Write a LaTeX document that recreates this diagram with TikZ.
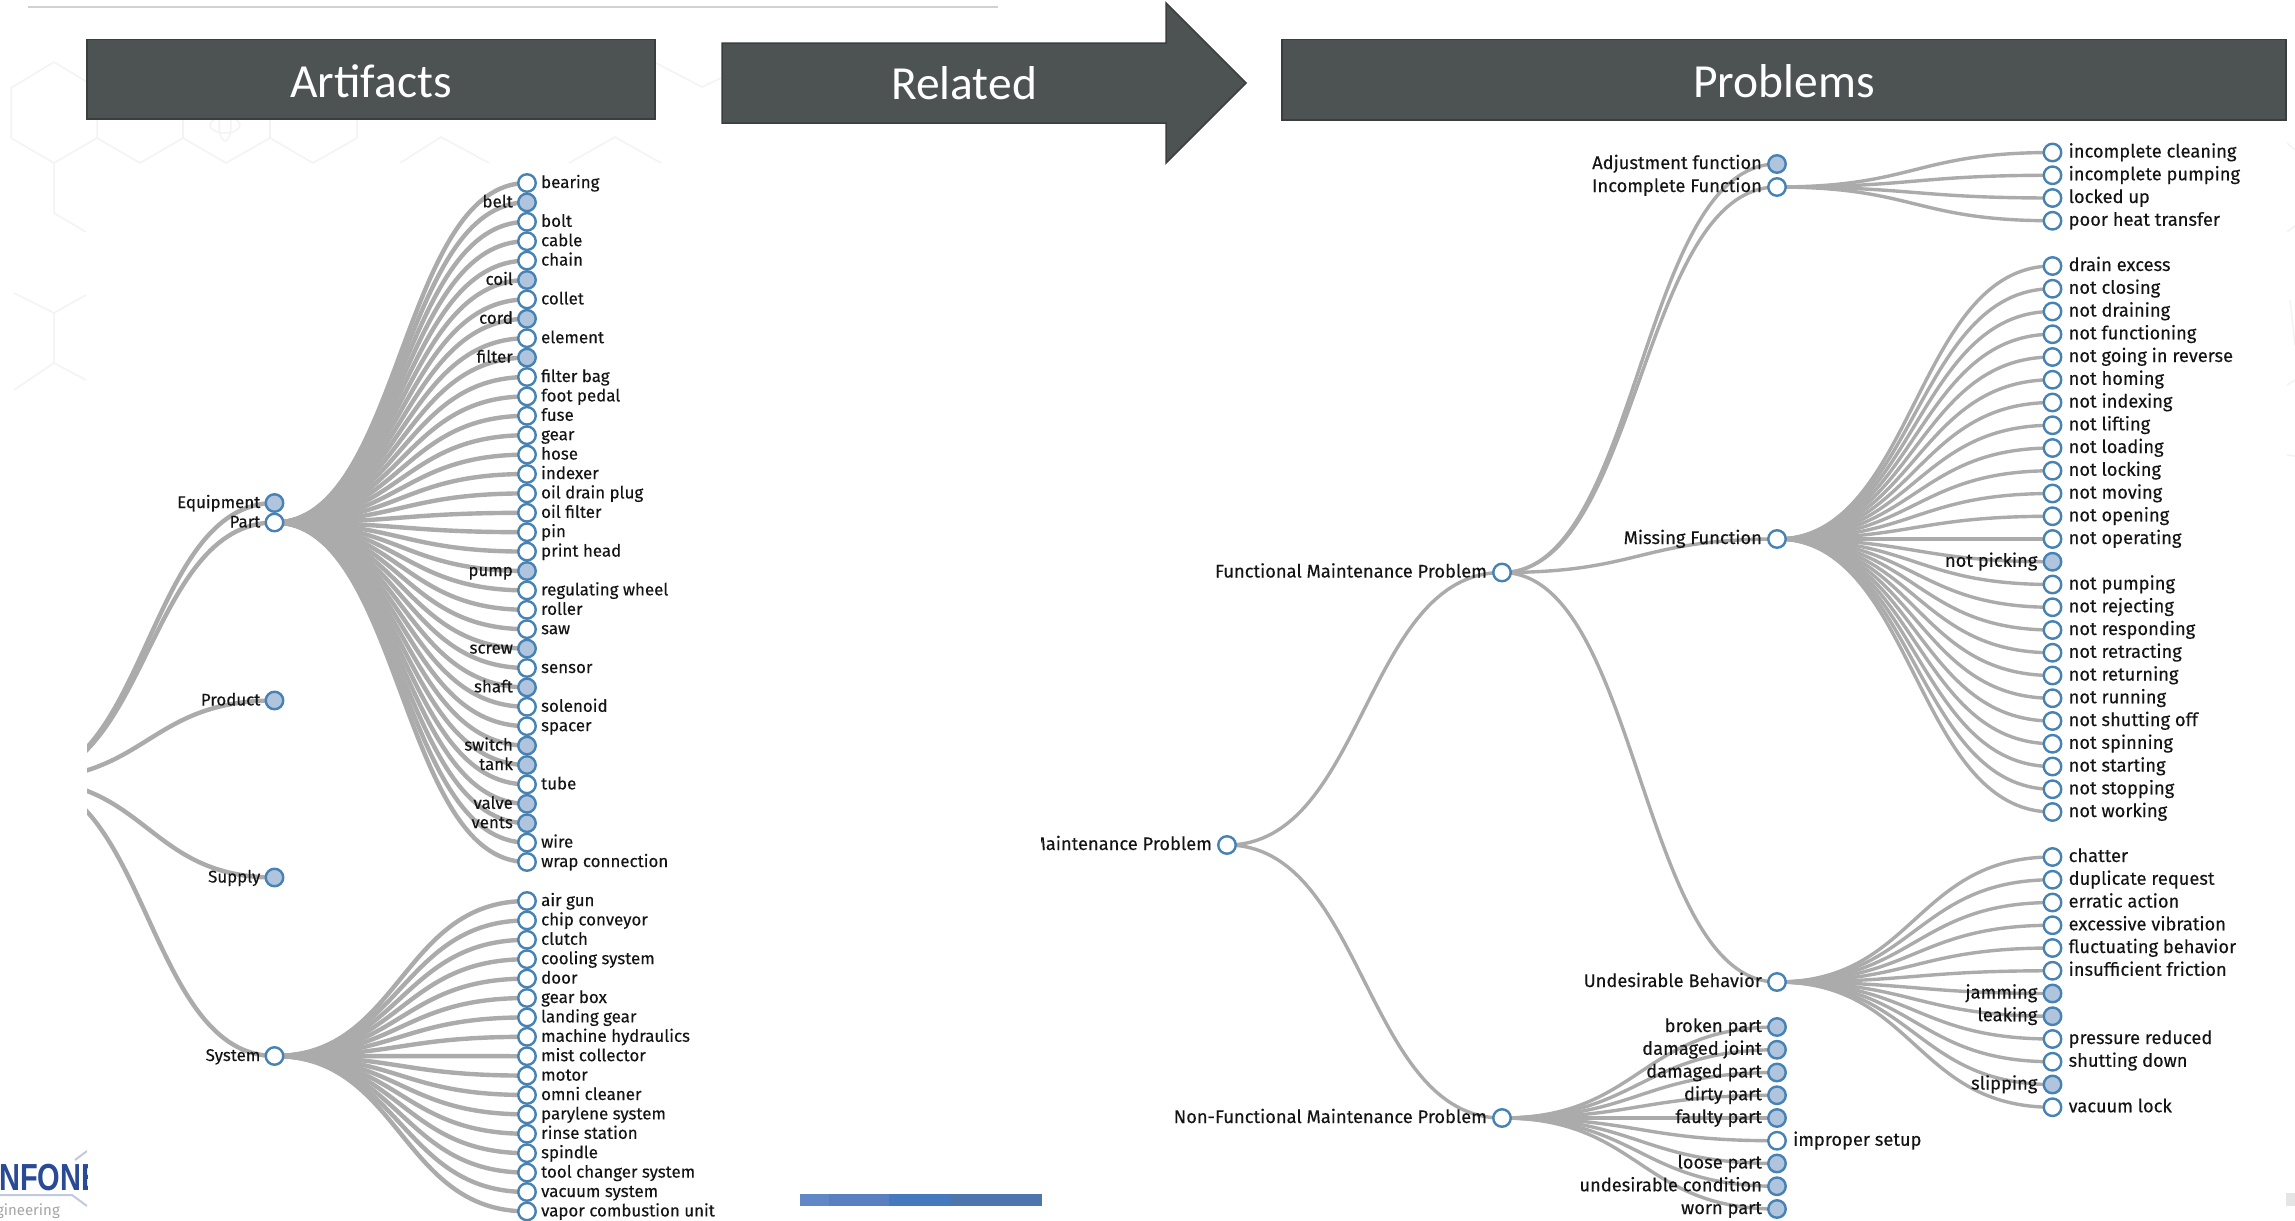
\documentclass[tikz,border=0pt]{standalone}
\usepackage{fontspec}
\usetikzlibrary{calc}
\setmainfont{Fira Sans}
\newfontfamily\lblfont{Fira Sans}[FakeBold=0.2]
\newfontfamily\headfont{Carlito}
\newfontfamily\logofont{Liberation Sans}
\definecolor{headfill}{HTML}{4D5252}
\definecolor{headedge}{HTML}{3A3E3E}
\definecolor{nodeedge}{HTML}{4682B4}
\definecolor{nodefill}{HTML}{B0C4DE}
\definecolor{linkgray}{HTML}{ABABAB}
\definecolor{hexgray}{HTML}{F3F3F3}
\definecolor{logoblue}{HTML}{2A4A96}
\pgfdeclarelayer{paper}
\pgfdeclarelayer{links}
\pgfsetlayers{paper,links,main}
\tikzset{
  x=1pt,y=-1pt,
  hexline/.style={draw=hexgray,line width=1.5pt,line join=round},
  headbox/.style={fill=headfill,draw=headedge,line width=1.5pt},
  headtext/.style={text=white,inner sep=0pt,font=\headfont\fontsize{47.5}{47.5}\selectfont},
  disc/.style={circle,inner sep=0pt,minimum size=17.5pt,draw=nodeedge,line width=2.4pt},
  discopen/.style={disc,fill=white},
  discfull/.style={disc,fill=nodefill},
  leftlab/.style={inner sep=0pt,text=black!92,text height=1.2em,text depth=.2em,font=\lblfont\fontsize{16.9}{17}\selectfont},
  rightlab/.style={inner sep=0pt,text=black!92,text height=1.2em,text depth=.2em,font=\lblfont\fontsize{18.3}{18}\selectfont},
  openA/.style={discopen,label={[leftlab,label distance=4pt]right:#1}},
  fullA/.style={discfull,label={[leftlab,label distance=4pt]left:#1}},
  openB/.style={discopen,label={[rightlab,label distance=6pt]right:#1}},
  fullB/.style={discfull,label={[rightlab,label distance=5pt]left:#1}},
  innerA/.style={discopen,label={[leftlab,label distance=4pt]left:#1}},
  innerB/.style={discopen,label={[rightlab,label distance=5pt]left:#1}},
  linkwide/.style={draw=linkgray,line width=4.4pt},
  linknarrow/.style={draw=linkgray,line width=3.4pt},
}
\newcommand{\treelink}[3]{\draw[#1] let \p1=(#2.center),\p2=(#3.center),\n1={(\x1+\x2)/2} in (\p1) .. controls (\n1,\y1) and (\n1,\y2) .. (\p2);}
\begin{document}
\begin{tikzpicture}
\useasboundingbox (0,0) rectangle (2295,1221);
\begin{pgfonlayer}{paper}
\fill[white] (0,0) rectangle (2295,1221);
\end{pgfonlayer}
% faint background pattern
\begin{scope}
\clip (0,0) rectangle (87,1221) (87,0) rectangle (721,164);
\draw[hexline] (54,62)--(97,88)--(97,138)--(54,163)--(11,138)--(11,88)--cycle;
\draw[hexline] (97,138)--(140,163)--(183,138)--(226,163)--(270,138)--(313,163)--(357,138)--(357,115);
\draw[hexline] (183,138)--(183,115) (270,138)--(270,115);
\draw[hexline] (54,163)--(54,213)--(86,232);
\draw[hexline] (400,163)--(441,137)--(489,163) (569,163)--(615,137)--(661,163);
\draw[hexline] (656,63)--(702,87)--(721,78);
\draw[hexline] (14,293)--(54,313)--(86,295) (54,313)--(54,363)--(14,390) (54,363)--(86,380);
\draw[hexline] (225,125) ellipse (15 and 8) (225,125) ellipse (6 and 16);
\end{scope}
\draw[hexline] (2287,143)--(2295,150) (2287,232)--(2295,226) (2290,300)--(2295,345) (2287,385)--(2295,380) (2287,455)--(2295,456);
\draw[draw=black!18,line width=2pt] (28,7)--(998,7);
% headers
\fill[headbox] (87,39.5) rectangle (655,119);
\node[headtext] (artifacts) at (371,81) {Artifacts};
\filldraw[headbox] (722,43)--(1166,43)--(1166,3)--(1246,83)--(1166,163)--(1166,123)--(722,123)--cycle;
\node[headtext] (related) at (964,83) {Related};
\fill[headbox] (1282,39.5) rectangle (2286,120);
\node[headtext] (problems) at (1784,81) {Problems};
% logo fragment
\begin{scope}
\clip (0,1140) rectangle (87,1221);
\node[inner sep=0pt,anchor=base west,yscale=1.3,text=logoblue,font=\logofont\bfseries\fontsize{29}{29}\selectfont] (logo) at (-1,1190) {NFONE};
\draw[draw=logoblue!30,line width=2pt] (0,1195)--(72,1195)--(87,1206) (75,1160)--(87,1151);
\node[inner sep=0pt,anchor=base east,text=black!35,font=\fontsize{15}{15}\selectfont] (logosub) at (60,1215) {Engineering};
\end{scope}
% bottom bars
\fill[fill={rgb,255:red,96;green,135;blue,198}] (800,1194) rectangle (829,1206);
\fill[fill={rgb,255:red,90;green,127;blue,192}] (829,1194) rectangle (889,1206);
\fill[fill={rgb,255:red,68;green,121;blue,189}] (889,1194) rectangle (949,1206);
\fill[fill={rgb,255:red,78;green,118;blue,174}] (949,1194) rectangle (1042,1206);
\fill[black!10] (2286,1193) rectangle (2295,1206);
% left tree
\coordinate (aroot) at (21,779.5);
\node[fullA=Equipment] (a1) at (274.5,503) {};
\node[innerA=Part] (a2) at (274.5,522.5) {};
\node[fullA=Product] (a3) at (274.5,700.5) {};
\node[fullA=Supply] (a4) at (274.5,877.5) {};
\node[innerA=System] (a5) at (274.5,1056) {};
\foreach \t/\k [count=\i from 0] in {bearing/openA,belt/fullA,bolt/openA,cable/openA,chain/openA,coil/fullA,collet/openA,cord/fullA,element/openA,filter/fullA,filter bag/openA,foot pedal/openA,fuse/openA,gear/openA,hose/openA,indexer/openA,oil drain plug/openA,oil filter/openA,pin/openA,print head/openA,pump/fullA,regulating wheel/openA,roller/openA,saw/openA,screw/fullA,sensor/openA,shaft/fullA,solenoid/openA,spacer/openA,switch/fullA,tank/fullA,tube/openA,valve/fullA,vents/fullA,wire/openA,wrap connection/openA}{
  \pgfmathsetmacro\yy{183+19.4*\i}
  \node[\k=\t] (p\i) at (527,\yy) {};
}
\foreach \t [count=\i from 0] in {air gun,chip conveyor,clutch,cooling system,door,gear box,landing gear,machine hydraulics,mist collector,motor,omni cleaner,parylene system,rinse station,spindle,tool changer system,vacuum system,vapor combustion unit}{
  \pgfmathsetmacro\yy{901+19.4*\i}
  \node[openA=\t] (s\i) at (527,\yy) {};
}
% right tree
\begin{scope}
\clip (1041,800) rectangle (1300,890);
\node[innerB=Maintenance Problem] (b0) at (1227,845) {};
\end{scope}
\node[innerB=Functional Maintenance Problem] (f0) at (1502,572.5) {};
\node[innerB=Non-Functional Maintenance Problem] (n0) at (1502,1118) {};
\node[fullB=Adjustment function] (f1) at (1777,164) {};
\node[innerB=Incomplete Function] (f2) at (1777,187) {};
\node[innerB=Missing Function] (f3) at (1777,539) {};
\node[innerB=Undesirable Behavior] (f4) at (1777,982) {};
\foreach \t [count=\i from 0] in {incomplete cleaning,incomplete pumping,locked up,poor heat transfer}{
  \pgfmathsetmacro\yy{152.5+22.75*\i}
  \node[openB=\t] (ic\i) at (2052.5,\yy) {};
}
\foreach \t/\k [count=\i from 0] in {drain excess/openB,not closing/openB,not draining/openB,not functioning/openB,not going in reverse/openB,not homing/openB,not indexing/openB,not lifting/openB,not loading/openB,not locking/openB,not moving/openB,not opening/openB,not operating/openB,not picking/fullB,not pumping/openB,not rejecting/openB,not responding/openB,not retracting/openB,not returning/openB,not running/openB,not shutting off/openB,not spinning/openB,not starting/openB,not stopping/openB,not working/openB}{
  \pgfmathsetmacro\yy{266+22.75*\i}
  \node[\k=\t] (m\i) at (2052.5,\yy) {};
}
\foreach \t/\k [count=\i from 0] in {chatter/openB,duplicate request/openB,erratic action/openB,excessive vibration/openB,fluctuating behavior/openB,insufficient friction/openB,jamming/fullB,leaking/fullB,pressure reduced/openB,shutting down/openB,slipping/fullB,vacuum lock/openB}{
  \pgfmathsetmacro\yy{857+22.75*\i}
  \node[\k=\t] (u\i) at (2052.5,\yy) {};
}
\foreach \t/\k [count=\i from 0] in {broken part/fullB,damaged joint/fullB,damaged part/fullB,dirty part/fullB,faulty part/fullB,improper setup/openB,loose part/fullB,undesirable condition/fullB,worn part/fullB}{
  \pgfmathsetmacro\yy{1027+22.75*\i}
  \node[\k=\t] (x\i) at (1777,\yy) {};
}
% links
\begin{pgfonlayer}{links}
\begin{scope}
\clip (87,0) rectangle (400,1221);
\foreach \c in {a1,a2,a3,a4,a5}{\treelink{linkwide}{aroot}{\c}}
\end{scope}
\foreach \i in {0,...,35}{\treelink{linkwide}{a2}{p\i}}
\foreach \i in {0,...,16}{\treelink{linkwide}{a5}{s\i}}
\treelink{linknarrow}{b0}{f0}
\treelink{linknarrow}{b0}{n0}
\foreach \c in {f1,f2,f3,f4}{\treelink{linknarrow}{f0}{\c}}
\foreach \i in {0,...,8}{\treelink{linknarrow}{n0}{x\i}}
\foreach \i in {0,...,3}{\treelink{linknarrow}{f2}{ic\i}}
\foreach \i in {0,...,24}{\treelink{linknarrow}{f3}{m\i}}
\foreach \i in {0,...,11}{\treelink{linknarrow}{f4}{u\i}}
\end{pgfonlayer}
\end{tikzpicture}
\end{document}
